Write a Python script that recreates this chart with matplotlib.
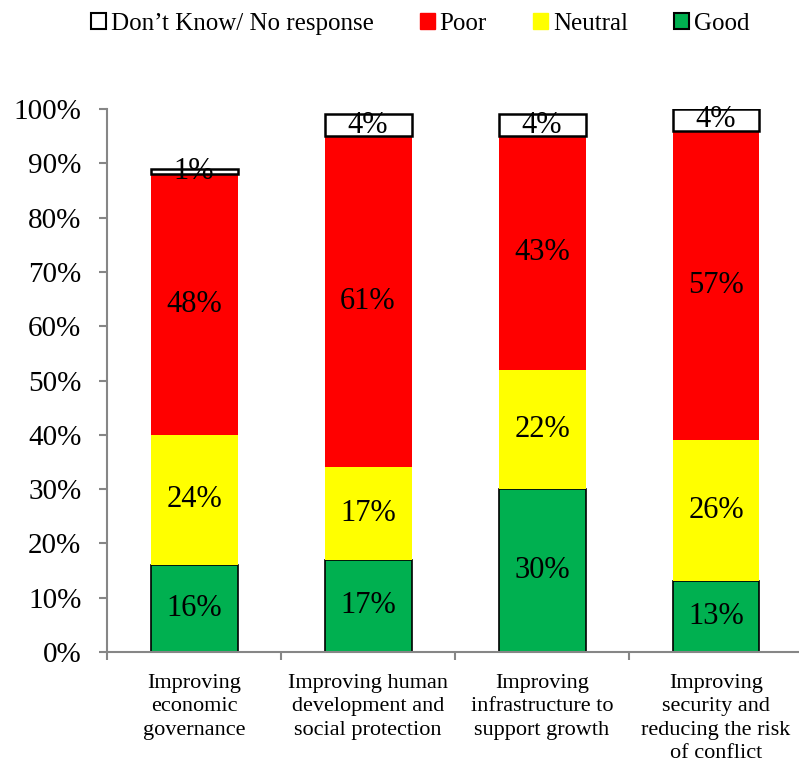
import matplotlib as mpl
mpl.use('Agg')
import matplotlib.pyplot as plt
from matplotlib.patches import Patch
import numpy as np

categories = ['Improving\neconomic\ngovernance',
              'Improving human\ndevelopment and\nsocial protection',
              'Improving\ninfrastructure to\nsupport growth',
              'Improving\nsecurity and\nreducing the risk\nof conflict']
good = [16, 17, 30, 13]
neutral = [24, 17, 22, 26]
poor = [48, 61, 43, 57]
dont_know = [1, 4, 4, 4]
yticks = list(range(0, 101, 10))

serif = ['Liberation Serif', 'DejaVu Serif']
plt.rcParams['font.family'] = serif

cgood = '#00B050'
cneutral = '#FFFF00'
cpoor = '#FF0000'
cdk = '#FFFFFF'
caxis = '#868686'

fig = plt.figure(figsize=(7.99, 7.64), dpi=100)
ax = fig.add_axes([0.134, 0.1466, 0.871, 0.7107])

x = np.arange(len(categories))
w = 0.5
b0 = np.zeros(len(x))
ax.bar(x, good, w, bottom=b0, color=cgood, edgecolor='black', linewidth=1.2)
b1 = b0 + np.array(good)
ax.bar(x, neutral, w, bottom=b1, color=cneutral, linewidth=0)
b2 = b1 + np.array(neutral)
ax.bar(x, poor, w, bottom=b2, color=cpoor, linewidth=0)
b3 = b2 + np.array(poor)
ax.bar(x, dont_know, w, bottom=b3, color=cdk, edgecolor='black', linewidth=1.8)

# labels in the middle of each segment
for vals, bot in [(good, b0), (neutral, b1), (poor, b2), (dont_know, b3)]:
    for i in range(len(x)):
        ax.text(x[i], bot[i] + vals[i] / 2, '{:d}%'.format(vals[i]),
                ha='center', va='center', fontsize=22, color='black')

ax.set_xlim(-0.5, 3.5)
ax.set_ylim(0, 100)
ax.set_yticks(yticks)
ax.set_yticklabels(['{:d}%'.format(t) for t in yticks], fontsize=21)
ax.set_xticks([-0.5, 0.5, 1.5, 2.5])
ax.set_xticklabels([])
ax.set_xticks(x, minor=True)
ax.set_xticklabels(categories, minor=True, fontsize=16, linespacing=1.3)
ax.tick_params(axis='x', which='minor', length=0, pad=16)
ax.tick_params(axis='both', which='major', length=5.5, width=1.5, color=caxis)
ax.tick_params(axis='y', pad=13)

for s in ['top', 'right']:
    ax.spines[s].set_visible(False)
for s in ['left', 'bottom']:
    ax.spines[s].set_color(caxis)
    ax.spines[s].set_linewidth(1.5)

handles = [Patch(facecolor=cdk, edgecolor='black', linewidth=1.5, label='Don\u2019t Know/ No response'),
           Patch(facecolor=cpoor, edgecolor=cpoor, label='Poor'),
           Patch(facecolor=cneutral, edgecolor=cneutral, label='Neutral'),
           Patch(facecolor=cgood, edgecolor='black', linewidth=1.5, label='Good')]
fig.legend(handles=handles, loc='center', bbox_to_anchor=(0.526, 0.969), ncol=4,
           frameon=False, fontsize=18, handlelength=0.6, handleheight=0.6,
           handletextpad=0.2, columnspacing=1.85)

plt.savefig('out.png', dpi=100)
